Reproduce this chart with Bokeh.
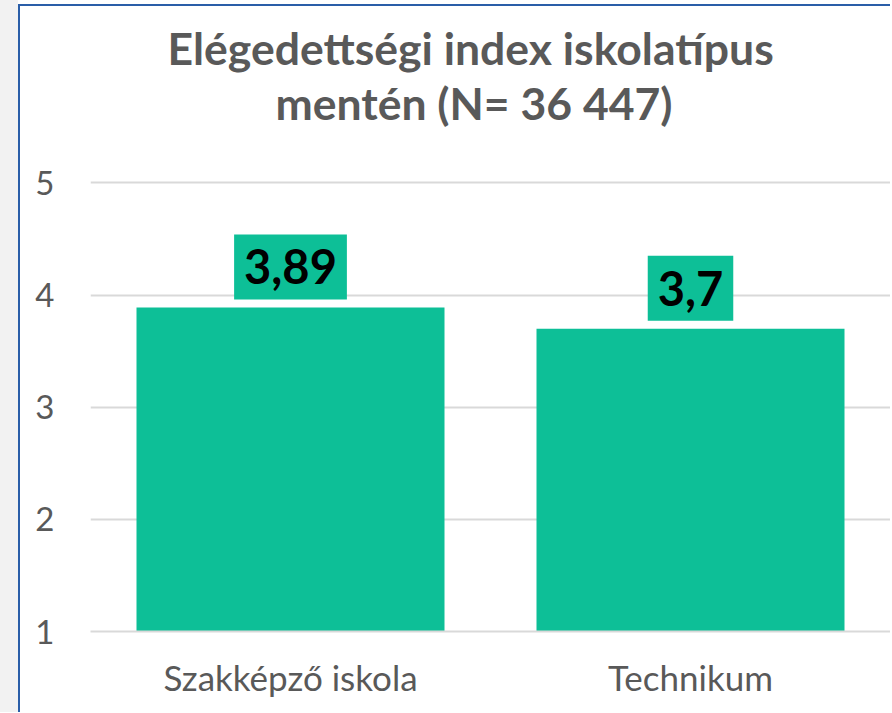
from bokeh.plotting import figure
from bokeh.layouts import row, column
from bokeh.models import Range1d, FixedTicker, Title, Label, ColumnDataSource, Spacer
from bokeh.embed import file_html
from bokeh.resources import INLINE

categories = ["Szakképző iskola", "Technikum"]
values = [3.89, 3.7]
value_labels = ["3,89", "3,7"]
y_ticks = [1, 2, 3, 4, 5]
title_lines = ["Elégedettségi index iskolatípus", "mentén (N= 36 447)"]

BAR = "#0DBF97"
GREY_TEXT = "#595959"
GRID = "#d9d9d9"
FONT = "Lato"
BORDER = "#2a5ea8"

PW, PH = 870, 694

p = figure(
    x_range=categories,
    y_range=Range1d(1, 5.485),
    width=PW,
    height=PH,
    output_backend="svg",
    toolbar_location=None,
    min_border_left=70,
    min_border_right=0,
    min_border_top=122,
    min_border_bottom=68,
)
p.outline_line_color = None
p.background_fill_color = "white"
p.border_fill_color = "white"

# titles: p.title is the outer line, the later Title sits next to the frame
p.title.text = title_lines[0]
p.title.align = "left"
p.title.offset = 77
p.title.standoff = 0
p.title.text_font = FONT
p.title.text_font_style = "bold"
p.title.text_font_size = "44.5px"
p.title.text_color = GREY_TEXT

t2 = Title(text=title_lines[1], align="left", offset=185, standoff=0,
           text_font=FONT, text_font_style="bold", text_font_size="44.5px",
           text_color=GREY_TEXT)
p.add_layout(t2, "above")

src = ColumnDataSource(dict(cat=categories, val=values, lab=value_labels))
p.vbar(x="cat", top="val", bottom=1, width=0.77, source=src,
       fill_color=BAR, line_color=None)

# categorical synthetic coordinate of factor i is its centre i + 0.5
for i, (v, lab) in enumerate(zip(values, value_labels)):
    p.add_layout(Label(x=i + 0.5, y=v, text=lab, text_align="center", text_baseline="bottom",
                       y_offset=8, padding=(10, 15),
                       text_font=FONT, text_font_style="bold", text_font_size="47px",
                       text_color="black", background_fill_color=BAR))

p.xgrid.grid_line_color = None
p.ygrid.grid_line_color = GRID
p.ygrid.grid_line_width = 2
p.ygrid.ticker = FixedTicker(ticks=y_ticks)

p.yaxis.ticker = FixedTicker(ticks=y_ticks)
p.yaxis.axis_line_color = None
p.yaxis.major_tick_line_color = None
p.yaxis.minor_tick_line_color = None
p.yaxis.major_label_text_font = FONT
p.yaxis.major_label_text_font_size = "33px"
p.yaxis.major_label_text_color = GREY_TEXT
p.yaxis.major_label_standoff = 30

p.xaxis.axis_line_color = GRID
p.xaxis.axis_line_width = 2
p.xaxis.major_tick_line_color = None
p.xaxis.minor_tick_line_color = None
p.xaxis.major_label_text_font = FONT
p.xaxis.major_label_text_font_size = "35px"
p.xaxis.major_label_text_color = GREY_TEXT
p.xaxis.major_label_standoff = 18

strip = Spacer(width=18, height=712, styles={"background-color": "#f2f2f2"})
top_gap = Spacer(width=PW + 2, height=4)
top_border = Spacer(width=PW + 2, height=2, styles={"background-color": BORDER})
left_border = Spacer(width=2, height=706, styles={"background-color": BORDER})
layout = row(strip, column(top_gap, top_border, row(left_border, p, spacing=0), spacing=0), spacing=0)

open("out.html", "w").write(file_html(layout, INLINE))
